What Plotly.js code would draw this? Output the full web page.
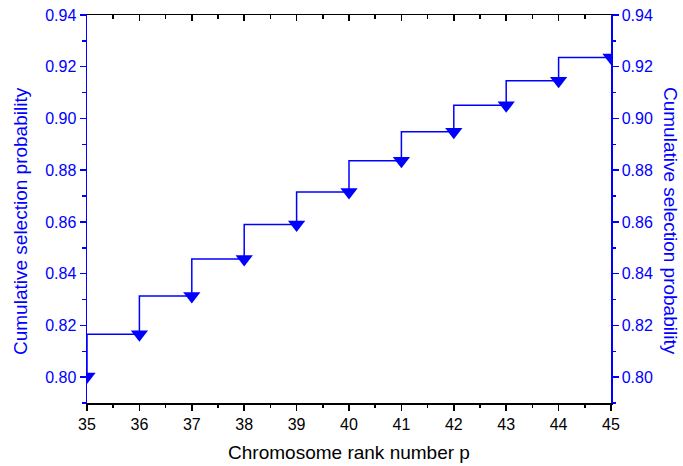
<!DOCTYPE html>
<html>
<head>
<meta charset="utf-8">
<script src="https://cdn.plot.ly/plotly-3.0.1.min.js"></script>
<style>html,body{margin:0;padding:0;background:#fff;}#chart{width:683px;height:466px;}</style>
</head>
<body>
<div id="chart"></div>
<script>
var rankNumbers = [35, 36, 37, 38, 39, 40, 41, 42, 43, 44, 45];
var cumulativeProbability = [0.8002, 0.8166, 0.8314, 0.8457, 0.8590, 0.8716, 0.8837, 0.8949, 0.9051, 0.9146, 0.9236];
var xTickValues = [35, 36, 37, 38, 39, 40, 41, 42, 43, 44, 45];
var yTickValues = [0.80, 0.82, 0.84, 0.86, 0.88, 0.90, 0.92, 0.94];
var yTitle = 'Cumulative selection probability';
var xTitle = 'Chromosome rank number p';

var blue = '#0000FF';
var fontFamily = 'Liberation Sans, Arial, sans-serif';

var traces = [
  {
    x: rankNumbers, y: cumulativeProbability,
    type: 'scatter', mode: 'lines+markers',
    line: {shape: 'vh', color: blue, width: 1.5},
    marker: {symbol: 'triangle-down', size: 15, color: blue},
    cliponaxis: true, showlegend: false, hoverinfo: 'x+y'
  },
  {
    x: rankNumbers, y: cumulativeProbability,
    xaxis: 'x2', yaxis: 'y2',
    type: 'scatter', mode: 'markers',
    marker: {opacity: 0}, showlegend: false, hoverinfo: 'skip'
  }
];

var layout = {
  width: 683, height: 466,
  margin: {l: 87, r: 72, t: 15, b: 63},
  paper_bgcolor: '#fff', plot_bgcolor: '#fff',
  font: {family: fontFamily, size: 16, color: '#000'},
  xaxis: {
    range: [35, 45], tickvals: xTickValues, ticktext: xTickValues.map(String),
    showgrid: false, zeroline: false,
    showline: true, linecolor: '#000', linewidth: 1.5,
    ticks: 'outside', ticklen: 6, tickwidth: 1.5, tickcolor: '#000',
    minor: {dtick: 0.5, ticks: 'outside', ticklen: 3.5, tickwidth: 1.5, tickcolor: '#000'},
    tickfont: {size: 16, color: '#000'},
    title: {text: xTitle, font: {size: 19, color: '#000'}, standoff: 14}
  },
  xaxis2: {
    overlaying: 'x', side: 'top', anchor: 'y',
    range: [35, 45], tickvals: xTickValues, showticklabels: false,
    showgrid: false, zeroline: false,
    showline: true, linecolor: '#000', linewidth: 1.5,
    ticks: 'inside', ticklen: 6, tickwidth: 1.5, tickcolor: '#000',
    minor: {dtick: 0.5, ticks: 'inside', ticklen: 3.5, tickwidth: 1.5, tickcolor: '#000'}
  },
  yaxis: {
    range: [0.79, 0.94], tickvals: yTickValues, ticktext: yTickValues.map(function(v){return v.toFixed(2);}),
    showgrid: false, zeroline: false,
    showline: true, linecolor: blue, linewidth: 1.5,
    ticks: 'outside', ticklen: 6, tickwidth: 1.5, tickcolor: blue,
    minor: {dtick: 0.01, ticks: 'outside', ticklen: 3.5, tickwidth: 1.5, tickcolor: blue},
    tickfont: {size: 16, color: blue}
  },
  yaxis2: {
    overlaying: 'y', side: 'right', anchor: 'x',
    range: [0.79, 0.94], tickvals: yTickValues, ticktext: yTickValues.map(function(v){return v.toFixed(2);}),
    showgrid: false, zeroline: false,
    showline: true, linecolor: blue, linewidth: 1.5,
    ticks: 'outside', ticklen: 6, tickwidth: 1.5, tickcolor: blue,
    minor: {dtick: 0.01, ticks: 'outside', ticklen: 3.5, tickwidth: 1.5, tickcolor: blue},
    tickfont: {size: 16, color: blue}
  },
  annotations: [
    {
      text: yTitle,
      xref: 'paper', yref: 'paper', x: 0, y: 0.5,
      xanchor: 'center', yanchor: 'middle', xshift: -67, yshift: -12,
      textangle: -90, showarrow: false,
      font: {family: fontFamily, size: 19, color: blue}
    },
    {
      text: yTitle,
      xref: 'paper', yref: 'paper', x: 1, y: 0.5,
      xanchor: 'center', yanchor: 'middle', xshift: 60, yshift: -12,
      textangle: 90, showarrow: false,
      font: {family: fontFamily, size: 19, color: blue}
    }
  ]
};

Plotly.newPlot('chart', traces, layout, {displayModeBar: false, staticPlot: true});
</script>
</body>
</html>
